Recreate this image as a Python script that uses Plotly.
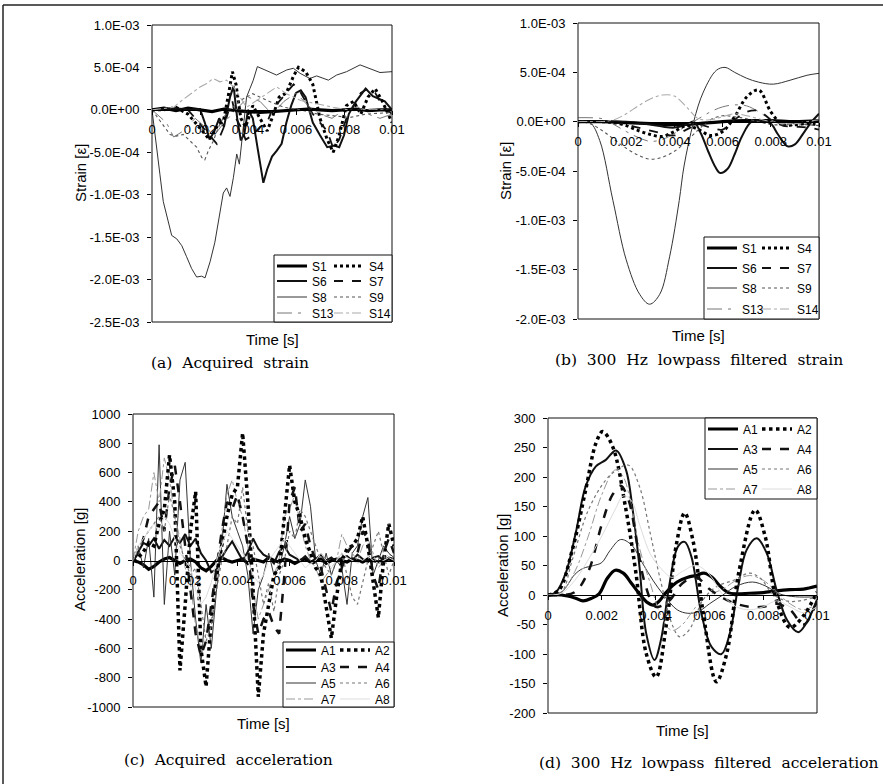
import numpy as np
import plotly.graph_objects as go

W, H = 883, 784
SANS = "Liberation Sans, Arial, sans-serif"
SERIF = "DejaVu Serif, Liberation Serif, serif"

# ---------------- tick labels ----------------
X_TICK_VALS = [0, 0.002, 0.004, 0.006, 0.008, 0.01]
X_TICK_TEXT = ["0", "0.002", "0.004", "0.006", "0.008", "0.01"]
STRAIN_A_TICKS = [1.0e-3, 5.0e-4, 0.0, -5.0e-4, -1.0e-3, -1.5e-3, -2.0e-3, -2.5e-3]
STRAIN_A_LABELS = ["1.0E-03", "5.0E-04", "0.0E+00", "-5.0E-04", "-1.0E-03", "-1.5E-03", "-2.0E-03", "-2.5E-03"]
STRAIN_B_TICKS = [1.0e-3, 5.0e-4, 0.0, -5.0e-4, -1.0e-3, -1.5e-3, -2.0e-3]
STRAIN_B_LABELS = ["1.0E-03", "5.0E-04", "0.0E+00", "-5.0E-04", "-1.0E-03", "-1.5E-03", "-2.0E-03"]
ACC_C_TICKS = [1000, 800, 600, 400, 200, 0, -200, -400, -600, -800, -1000]
ACC_D_TICKS = [300, 250, 200, 150, 100, 50, 0, -50, -100, -150, -200]

# ---------------- (a) acquired strain: time [ms], strain [1e-4] ----------------
A_S1_T = [0, 0.5, 1.0, 1.5, 2.0, 2.5, 3.0, 3.5, 4.0, 4.5, 5.0, 5.5, 6.0, 6.5, 7.0, 7.5, 8.0, 8.5, 9.0, 9.5, 10]
A_S1_V = [0, 0.2, -0.1, 0.2, 0, -0.2, 0.1, -0.1, -0.2, -0.3, -0.2, -0.1, 0, 0.1, 0, -0.1, 0, 0.1, -0.1, 0, 0]
A_S6_T = [0, 0.5, 1.0, 1.5, 2.0, 2.2, 2.4, 2.6, 2.8, 3.0, 3.25, 3.4, 3.55, 3.7, 3.85, 4.0, 4.2, 4.4, 4.64, 4.8,
          5.0, 5.2, 5.4, 5.6, 5.8, 6.0, 6.2, 6.4, 6.7, 7.0, 7.3, 7.6, 7.8, 8.0, 8.2, 8.5, 8.9, 9.2, 9.5, 9.7, 10]
A_S6_V = [0, 0.1, 0.2, 0, 0.1, -1.5, -3.5, -2.5, -1.0, -2.0, 1.5, 2.8, -1.0, -3.6, -2.8, 0, -1.0, -4.5, -8.6, -7.0,
          -5.5, -4.8, -4.0, -1.5, 0.5, 2.0, 2.3, 1.5, -1.5, -3.0, -4.4, -4.2, -4.4, -3.0, -0.5, 1.0, 2.5, 1.6, 1.2, 1.0, 0]
A_S8_T = [0, 0.19, 0.33, 0.47, 0.61, 0.82, 1.03, 1.24, 1.44, 1.65, 1.86, 2.07, 2.21, 2.42, 2.62, 2.83, 2.97, 3.11,
          3.25, 3.39, 3.53, 3.64, 3.74, 3.94, 4.08, 4.22, 4.39, 4.78, 5.19, 5.61, 5.89, 6.17, 6.58, 6.86, 7.35, 7.69,
          8.11, 8.67, 9.08, 9.5, 10]
A_S8_V = [0, -4.0, -7.6, -10.8, -12.4, -14.8, -15.2, -16.0, -17.3, -18.7, -19.7, -19.6, -19.8, -17.9, -15.6, -12.4,
          -9.8, -9.2, -10.2, -8.0, -5.2, -6.4, -3.7, 1.5, 2.5, 3.5, 5.1, 4.6, 4.1, 4.7, 4.9, 4.3, 3.7, 4.0, 3.5, 4.1,
          4.5, 5.3, 4.9, 4.4, 4.5]
A_S4_T = [0, 0.5, 1.0, 1.5, 1.8, 2.1, 2.4, 2.7, 3.0, 3.2, 3.35, 3.5, 3.7, 3.9, 4.2, 4.5, 4.8, 5.0, 5.3, 5.6, 5.9,
          6.1, 6.4, 6.7, 7.0, 7.3, 7.55, 7.8, 8.1, 8.4, 8.7, 9.0, 9.3, 9.6, 10]
A_S4_V = [0, 0, 0.3, -0.5, -1.5, -2.5, -3.5, -2.0, -1.0, 2.0, 4.5, 3.0, -1.0, -2.0, 0.5, -1.0, -2.5, -1.0, 1.5, 2.0,
          4.0, 5.0, 4.5, 3.0, -1.0, -3.5, -5.0, -3.0, 0.5, 1.0, -0.5, 1.5, 2.5, 1.0, -1.5]
A_S7_T = A_S4_T
A_S7_V = [0, 0, 0.2, 0, -1, -2, -3, -4, -2, 0, 1, -1, -2, -3.5, -3, -2, -1.5, 0, 1, 2, 3, 2.5, 1, -0.5, -1.5,
          -2.5, -4.5, -3.5, -1, 0.5, 2, 2.5, 2, 0.5, -0.5]
A_S9_T = [0, 0.33, 0.75, 1.0, 1.3, 1.6, 1.86, 2.07, 2.2, 2.35, 2.55, 2.76, 2.97, 3.25, 3.67, 4.2, 4.8, 5.5, 6.2,
          6.9, 7.6, 8.25, 8.9, 10]
A_S9_V = [0, -1.3, -2.9, -3.1, -2.9, -3.7, -4.4, -5.6, -5.9, -4.8, -3.7, -2.1, -0.9, 0, 1.1, 1.9, 1.1, 0.3, 0,
          -0.5, -0.7, -0.9, -0.5, -0.3]
A_S13_T = [0, 0.6, 0.9, 1.3, 1.8, 2.2, 2.6, 3.0, 3.5, 4.0, 4.5, 5.0, 5.5, 6.0, 6.5, 7.0, 7.5, 8.0, 8.5, 9.0, 9.5, 10]
A_S13_V = [0, -1.5, -3.2, -2.5, -1.0, -2.0, -3.0, -1.5, 0, 1.5, 1.0, -0.5, 1.0, 2.0, 0.5, -0.5, -1.0, 0, 0.5, -0.5,
           -1.0, -0.5]
A_S14_T = [0, 0.9, 1.24, 1.6, 2.0, 2.28, 2.55, 2.83, 3.1, 3.4, 3.67, 3.94, 4.36, 4.78, 5.2, 5.6, 6.2, 6.9, 7.55,
           8.4, 9.2, 10]
A_S14_V = [0, 0.3, 1.1, 1.9, 2.7, 3.1, 3.7, 3.3, 3.5, 2.7, 1.5, 0.3, 1.1, 1.9, 2.7, 1.9, 1.1, 0.7, 0.3, -0.1, 0.1,
           -0.1]

# ---------------- (b) filtered strain: time [ms], strain [1e-4] ----------------
B_S1_T = [0, 1, 2, 3, 4, 5, 6, 7, 8, 9, 10]
B_S1_V = [0, 0, -0.1, -0.2, -0.3, -0.2, 0, 0.1, 0.1, 0, 0.1]
B_S6_T = [0, 1, 2, 3, 3.5, 4, 4.5, 4.8, 5.1, 5.4, 5.7, 5.9, 6.2, 6.5, 6.8, 7.2, 7.6, 8.0, 8.3, 8.7, 9.0, 9.4, 9.7, 10]
B_S6_V = [0, 0, 0, -0.3, -0.5, -0.6, -0.3, 0, -1.2, -3.0, -4.6, -5.2, -4.8, -3.3, -1.5, 0, 0.1, -0.2, -1.3, -2.5,
          -2.3, -1.0, 0, 0.8]
B_S8_T = [0, 0.5, 0.9, 1.45, 2.0, 2.56, 2.97, 3.39, 3.8, 4.2, 4.4, 4.8, 5.2, 5.74, 6.1, 6.5, 7.0, 7.5, 8.1, 8.8,
          9.5, 10]
B_S8_V = [0, -0.1, -1.9, -8, -14, -17.5, -18.5, -17.5, -13.7, -8, -4.5, 0, 3.0, 5.2, 5.5, 5.0, 4.4, 4.0, 3.8, 4.2,
          4.7, 4.9]
B_S4_T = [0, 1, 1.5, 2, 2.5, 3, 3.5, 4, 4.5, 5, 5.5, 6, 6.5, 7, 7.5, 8, 8.5, 9, 9.5, 10]
B_S4_V = [0, 0, -0.1, -0.4, -0.9, -1.3, -1.5, -1.0, -0.4, -0.8, -1.4, -1.0, 0.5, 2.5, 3.2, 1.0, -0.3, -0.3, -0.2, -0.3]
B_S7_T = B_S4_T
B_S7_V = [0, 0, -0.1, -0.3, -0.6, -0.9, -1.2, -1.4, -0.8, -0.3, -0.6, -0.8, 0.2, 1.0, 1.1, 0.2, -0.4, -0.5, -0.6, -0.8]
B_T21 = [0, 0.5, 1, 1.5, 2, 2.5, 3, 3.5, 4, 4.5, 5, 5.5, 6, 6.5, 7, 7.5, 8, 8.5, 9, 9.5, 10]
B_S9_V = [0, -0.2, -0.9, -1.8, -2.7, -3.4, -3.8, -3.6, -3.0, -2.0, -0.8, 0.2, 0.6, 0.5, 0.3, 0, -0.3, -0.3, -0.2,
          -0.3, -0.4]
B_S13_V = [0.4, 0.4, 0.3, -0.3, -1.0, -1.6, -2.0, -1.8, -1.2, -0.4, 0.3, 1.0, 1.5, 1.7, 1.6, 1.0, 0.2, -0.3, -0.4,
           -0.2, 0.2]
B_S14_V = [0, 0, 0, 0.2, 0.8, 1.6, 2.3, 2.7, 2.6, 1.5, 0.3, 0.2, 0.5, 0.8, 0.6, 0.3, 0, -0.2, -0.2, 0, 0.2]

# ---------------- (c) acquired acceleration: time [ms] (0.2 ms samples), [g] ----------------
C_T = [0.0, 0.2, 0.4, 0.6, 0.8, 1.0, 1.2, 1.4, 1.6, 1.8, 2.0, 2.2, 2.4, 2.6, 2.8, 3.0, 3.2, 3.4, 3.6, 3.8,
       4.0, 4.2, 4.4, 4.6, 4.8, 5.0, 5.2, 5.4, 5.6, 5.8, 6.0, 6.2, 6.4, 6.6, 6.8, 7.0, 7.2, 7.4, 7.6, 7.8,
       8.0, 8.2, 8.4, 8.6, 8.8, 9.0, 9.2, 9.4, 9.6, 9.8, 10.0]
C_A1 = [0, -10, -30, -60, -40, -10, 10, 20, 0, -20,
        0, 10, -10, -50, -70, -40, 0, 20, 0, -10,
        0, 10, -20, 10, 0, -10, 20, 0, -10, 10,
        0, -20, 0, 10, -10, 0, 10, -20, 0, 10,
        0, -10, 10, 0, -10, 10, 0, -10, 0, 10, 0]
C_A3 = [0, 60, 120, 100, 150, 80, 140, 100, 160, 120,
        180, 100, 150, 50, 0, -80, -60, 20, 80, 130,
        60, 0, 60, 150, 80, 40, 20, -20, 60, 100,
        40, 20, 0, 30, -10, 10, 40, 0, 20, -10,
        20, 30, 0, 40, 10, -10, 20, 30, 0, 20, 10]
C_A5 = [0, 100, -50, 150, -250, 790, -300, 200, -100, 550,
        670, 0, -400, -700, -300, -600, -200, 100, 520, 300,
        200, 100, -100, -500, -200, -100, 50, -100, -50, 100,
        300, 150, 250, 550, 370, 0, -100, 50, -100, 0,
        -50, -300, 50, 100, 300, 430, -100, 0, 100, 50, 20]
C_A7 = [0, 200, 300, 350, 600, 400, 700, 550, 300, 150,
        -50, -150, -450, -600, -500, -400, -100, 200, 450, 550,
        400, 300, 100, -200, -400, -300, -200, -100, 0, 300,
        350, 450, 250, 100, 0, -50, -150, -100, -50, 0,
        180, 100, 50, 0, 100, 150, 50, -50, 0, 50, 0]
C_A2 = [0, 20, 60, 120, 100, 250, 350, 720, 400, -750,
        -300, 200, 470, -600, -860, -400, -100, 100, 300, 450,
        500, 870, 400, -200, -930, -500, -300, -100, -50, 300,
        650, 400, 300, 150, 50, -50, -100, -300, -530, -250,
        0, 80, 100, 150, 300, 100, -150, -390, 0, 250, 100]
C_A4 = [0, 50, 150, 300, 350, 400, 200, 500, 650, 400,
        100, -200, -500, -650, -550, -300, -50, 200, 400, 350,
        450, 300, 100, -300, -500, -400, -350, -450, -500, -100,
        400, 500, 200, 250, 100, 0, -50, -200, -350, -150,
        -50, 50, 100, 50, 200, 150, -100, -200, 50, 150, 50]
C_A6 = [0, 80, 150, 200, 250, 300, 200, 450, 300, 100,
        0, -100, -50, -300, -550, -450, -200, 0, 100, 300,
        250, 500, 200, 100, -100, -300, -150, -350, -100, 0,
        200, 150, 350, 300, 200, 100, 0, -50, -100, 0,
        50, -100, -250, -300, -150, 0, 100, 200, 50, -100, 0]
C_A8 = [0, 100, 150, 200, 250, 200, 300, 250, 150, 50,
        0, -50, -200, -300, -250, -150, 0, 100, 200, 150,
        100, 50, 0, -100, -150, -100, 0, 50, 100, 150,
        100, 50, 0, -50, -20, 0, 50, 0, -50, 0,
        50, 20, 0, -20, 0, 30, 0, -20, 0, 20, 0]

# ---------------- (d) filtered acceleration: time [ms], [g] ----------------
D_A1_T = [0, 0.5, 1.0, 1.3, 1.6, 1.9, 2.2, 2.5, 2.8, 3.1, 3.4, 3.7, 3.9, 4.1, 4.4, 4.8, 5.2, 5.5, 5.8, 6.1, 6.4,
          6.7, 7.0, 7.5, 8.0, 8.5, 9.0, 9.5, 10]
D_A1_V = [0, 0, -5, -10, -6, 2, 28, 42, 37, 20, 2, -13, -17, -12, 5, 22, 30, 33, 37, 30, 15, 4, 2, 3, 4, 7, 9,
          10, 15]
D_A3_T = [0, 0.3, 0.66, 1.03, 1.4, 1.78, 2.15, 2.53, 2.9, 3.15, 3.4, 3.65, 3.96, 4.2, 4.5, 4.83, 5.08, 5.33, 5.7,
          6.08, 6.45, 6.76, 7.07, 7.38, 7.76, 8.13, 8.5, 8.88, 9.3, 9.6, 10]
D_A3_V = [0, 5, 37, 105, 184, 218, 229, 245, 212, 144, 48, -65, -110, -76, 14, 82, 90, 65, -31, -88, -100, -65,
          14, 76, 96, 71, 8, -42, -63, -48, -8]
D_A5_T = [0, 0.5, 1.0, 1.3, 1.7, 2.0, 2.3, 2.7, 3.1, 3.5, 3.9, 4.3, 4.8, 5.2, 5.6, 6.0, 6.5, 7.0, 7.6, 8.1, 8.6,
          9.2, 10]
D_A5_V = [0, 5, 35, 45, 50, 55, 75, 94, 85, 55, 25, 0, -25, -31, -28, -15, 0, 15, 22, 15, 2, -3, -3]
D_A7_T = [0, 0.5, 1.0, 1.5, 2.0, 2.5, 2.8, 3.1, 3.4, 3.8, 4.2, 4.6, 5.0, 5.5, 6.0, 6.5, 7.0, 7.5, 8.0, 8.5, 9.0,
          9.5, 10]
D_A7_V = [0, 5, 40, 100, 170, 212, 200, 150, 80, 20, -35, -60, -50, -20, 0, 10, 25, 33, 25, 5, -15, -25, -15]
D_A2_T = [0, 0.4, 0.9, 1.4, 1.78, 2.03, 2.4, 2.9, 3.27, 3.65, 4.02, 4.4, 4.77, 5.08, 5.4, 5.77, 6.26, 6.64, 7.1,
          7.7, 8.07, 8.5, 9.0, 9.5, 10]
D_A2_V = [0, 8, 76, 178, 257, 277, 252, 144, 37, -99, -139, -50, 85, 139, 90, -30, -147, -100, 40, 144, 100, -10,
          -55, -35, 5]
D_A4_T = [0, 0.5, 1.0, 1.5, 2.0, 2.4, 2.7, 3.0, 3.3, 3.6, 4.0, 4.5, 5.0, 5.5, 6.0, 6.5, 7.0, 7.5, 8.0, 8.5, 9.0,
          9.5, 10]
D_A4_V = [0, 0, 5, 40, 120, 170, 185, 160, 90, 20, -20, -10, 20, 30, 10, -5, -15, -20, -20, -15, -25, -50, -10]
D_A6_T = [0, 0.5, 0.9, 1.5, 2.15, 2.65, 3.0, 3.4, 3.8, 4.15, 4.65, 4.9, 5.25, 5.77, 6.26, 6.9, 7.5, 7.9, 8.4, 9.0, 10]
D_A6_V = [0, 5, 59, 144, 195, 215, 220, 184, 105, 31, -54, -71, -59, -8, 14, 25, 37, 28, 0, -11, -3]
D_A8_T = D_A7_T
D_A8_V = [0, 3, 25, 60, 100, 145, 168, 160, 120, 70, 45, 30, 40, 50, 35, 0, -20, -25, -20, -10, -20, -30, -20]

DATA = {
    'a': {'S1': (A_S1_T, A_S1_V), 'S6': (A_S6_T, A_S6_V), 'S8': (A_S8_T, A_S8_V), 'S13': (A_S13_T, A_S13_V),
          'S4': (A_S4_T, A_S4_V), 'S7': (A_S7_T, A_S7_V), 'S9': (A_S9_T, A_S9_V), 'S14': (A_S14_T, A_S14_V)},
    'b': {'S1': (B_S1_T, B_S1_V), 'S6': (B_S6_T, B_S6_V), 'S8': (B_S8_T, B_S8_V), 'S13': (B_T21, B_S13_V),
          'S4': (B_S4_T, B_S4_V), 'S7': (B_S7_T, B_S7_V), 'S9': (B_T21, B_S9_V), 'S14': (B_T21, B_S14_V)},
    'c': {'A1': (C_T, C_A1), 'A3': (C_T, C_A3), 'A5': (C_T, C_A5), 'A7': (C_T, C_A7),
          'A2': (C_T, C_A2), 'A4': (C_T, C_A4), 'A6': (C_T, C_A6), 'A8': (C_T, C_A8)},
    'd': {'A1': (D_A1_T, D_A1_V), 'A3': (D_A3_T, D_A3_V), 'A5': (D_A5_T, D_A5_V), 'A7': (D_A7_T, D_A7_V),
          'A2': (D_A2_T, D_A2_V), 'A4': (D_A4_T, D_A4_V), 'A6': (D_A6_T, D_A6_V), 'A8': (D_A8_T, D_A8_V)},
}

# ---------------- styles ----------------
STYLE = {
    'S1': dict(color='#000000', width=3.2, dash='solid'),
    'S6': dict(color='#111111', width=2.0, dash='solid'),
    'S8': dict(color='#333333', width=1.0, dash='solid'),
    'S13': dict(color='#777777', width=1.0, dash='longdashdot'),
    'S4': dict(color='#000000', width=3.0, dash='dot'),
    'S7': dict(color='#111111', width=1.8, dash='dash'),
    'S9': dict(color='#555555', width=1.1, dash='dot'),
    'S14': dict(color='#aaaaaa', width=1.1, dash='dashdot'),
    'A1': dict(color='#000000', width=3.2, dash='solid'),
    'A3': dict(color='#111111', width=2.0, dash='solid'),
    'A5': dict(color='#333333', width=1.0, dash='solid'),
    'A7': dict(color='#999999', width=1.0, dash='dashdot'),
    'A2': dict(color='#000000', width=3.5, dash='dot'),
    'A4': dict(color='#111111', width=2.5, dash='dash'),
    'A6': dict(color='#777777', width=1.2, dash='dot'),
    'A8': dict(color='#dddddd', width=1.0, dash='solid'),
}

PANELS = {
    'a': dict(suf='', box=(152, 25, 392, 322), yr=(-2.5e-3, 1.0e-3), unit=1e-4, shape='linear',
              yt=STRAIN_A_TICKS, ytt=STRAIN_A_LABELS, ytitle='Strain [ε]', ytpos=(80, 173),
              xtpos=(272, 339), cap='(a)  Acquired  strain', cappos=(230, 363),
              legcols=[312, 369], legrows=[266, 281, 297, 313], legbox=(274, 255, 392, 322),
              order=[['S1', 'S6', 'S8', 'S13'], ['S4', 'S7', 'S9', 'S14']]),
    'b': dict(suf='2', box=(578, 23, 819, 319), yr=(-2.0e-3, 1.0e-3), unit=1e-4, shape='spline',
              yt=STRAIN_B_TICKS, ytt=STRAIN_B_LABELS, ytitle='Strain [ε]', ytpos=(505, 171),
              xtpos=(698, 335), cap='(b)  300  Hz  lowpass  filtered  strain', cappos=(699, 360),
              legcols=[742, 797], legrows=[248, 268, 288, 309], legbox=(704, 237, 819, 319),
              order=[['S1', 'S6', 'S8', 'S13'], ['S4', 'S7', 'S9', 'S14']]),
    'c': dict(suf='3', box=(133, 414, 394, 707), yr=(-1000, 1000), unit=1, shape='linear',
              yt=ACC_C_TICKS, ytt=[str(v) for v in ACC_C_TICKS], ytitle='Acceleration [g]', ytpos=(79, 560),
              xtpos=(263, 723), cap='(c)  Acquired  acceleration', cappos=(228, 760),
              legcols=[321, 375], legrows=[650, 667, 683, 699], legbox=(283, 642, 394, 707),
              order=[['A1', 'A3', 'A5', 'A7'], ['A2', 'A4', 'A6', 'A8']]),
    'd': dict(suf='4', box=(548, 418, 817, 713), yr=(-200, 300), unit=1, shape='spline',
              yt=ACC_D_TICKS, ytt=[str(v) for v in ACC_D_TICKS], ytitle='Acceleration [g]', ytpos=(502, 565),
              xtpos=(682, 730), cap='(d)  300  Hz  lowpass  filtered  acceleration', cappos=(708, 763),
              legcols=[743, 797], legrows=[429, 449, 469, 489], legbox=(705, 418, 817, 499),
              order=[['A1', 'A3', 'A5', 'A7'], ['A2', 'A4', 'A6', 'A8']]),
}

fig = go.Figure()
legends = {}
shapes = []
annotations = []
leg_n = 0

for p in 'abcd':
    P = PANELS[p]
    suf = P['suf']
    x0, y0, x1, y1 = P['box']
    yr = P['yr']
    zero_py = y1 - (0 - yr[0]) / (yr[1] - yr[0]) * (y1 - y0)

    fig.update_layout(**{
        'xaxis' + suf: dict(domain=[x0 / W, x1 / W], range=[0, 0.01], anchor='free', position=1 - zero_py / H,
                            tickvals=X_TICK_VALS, ticktext=X_TICK_TEXT, ticks='outside', ticklen=4,
                            tickcolor='black', showline=True, linecolor='black', linewidth=1,
                            showgrid=False, zeroline=False, ticklabelstandoff=4,
                            tickfont=dict(family=SANS, size=13, color='black'), automargin=False,
                            fixedrange=True),
        'yaxis' + suf: dict(domain=[1 - y1 / H, 1 - y0 / H], range=list(yr), anchor='x' + suf,
                            tickvals=P['yt'], ticktext=P['ytt'], ticks='outside', ticklen=4,
                            tickcolor='black', showline=False, showgrid=False, zeroline=False,
                            ticklabelstandoff=5, tickfont=dict(family=SANS, size=13, color='black'),
                            automargin=False, fixedrange=True),
    })

    for ci, col in enumerate(P['order']):
        for ri, name in enumerate(col):
            leg_n += 1
            lid = 'legend' if leg_n == 1 else 'legend%d' % leg_n
            t, v = DATA[p][name]
            fig.add_trace(go.Scatter(
                x=np.array(t, dtype=float) * 1e-3, y=np.array(v, dtype=float) * P['unit'],
                mode='lines', name=name, line=dict(**STYLE[name], shape=P['shape']),
                xaxis='x' + suf, yaxis='y' + suf, legend=lid, showlegend=True, hoverinfo='skip'))
            legends[lid] = dict(x=(P['legcols'][ci] - 40) / W, y=1 - P['legrows'][ri] / H,
                                xanchor='left', yanchor='middle', bgcolor='rgba(0,0,0,0)', borderwidth=0,
                                font=dict(family=SANS, size=12, color='black'), itemclick=False,
                                itemdoubleclick=False)

    # plot frame
    shapes.append(dict(type='rect', xref='x%s domain' % suf, yref='y%s domain' % suf, x0=0, x1=1, y0=0, y1=1,
                       line=dict(color='#111111', width=1), layer='above'))
    # legend box
    lx0, ly0, lx1, ly1 = P['legbox']
    shapes.append(dict(type='rect', xref='paper', yref='paper', x0=lx0 / W, x1=lx1 / W,
                       y0=1 - ly1 / H, y1=1 - ly0 / H, fillcolor='white',
                       line=dict(color='#111111', width=1), layer='above'))

    annotations.append(dict(text=P['ytitle'], x=P['ytpos'][0] / W, y=1 - P['ytpos'][1] / H, xref='paper',
                            yref='paper', showarrow=False, textangle=-90, xanchor='center', yanchor='middle',
                            font=dict(family=SANS, size=15, color='black')))
    annotations.append(dict(text='Time [s]', x=P['xtpos'][0] / W, y=1 - P['xtpos'][1] / H, xref='paper',
                            yref='paper', showarrow=False, xanchor='center', yanchor='middle',
                            font=dict(family=SANS, size=15, color='black')))
    annotations.append(dict(text=P['cap'], x=P['cappos'][0] / W, y=1 - P['cappos'][1] / H, xref='paper',
                            yref='paper', showarrow=False, xanchor='center', yanchor='middle',
                            font=dict(family=SERIF, size=15.5, color='black')))

# outer page border (left and top)
shapes.append(dict(type='line', xref='paper', yref='paper', x0=3 / W, x1=3 / W, y0=0, y1=1 - 5 / H,
                   line=dict(color='#222222', width=1.5)))
shapes.append(dict(type='line', xref='paper', yref='paper', x0=3 / W, x1=1, y0=1 - 5 / H, y1=1 - 5 / H,
                   line=dict(color='#222222', width=1.5)))

fig.update_layout(width=W, height=H, margin=dict(l=0, r=0, t=0, b=0), paper_bgcolor='white',
                  plot_bgcolor='white', showlegend=True, shapes=shapes, annotations=annotations, **legends)

fig.write_html("out.html", config={'displayModeBar': False},
               post_script="document.body.style.margin='0';document.body.style.overflow='hidden';")
